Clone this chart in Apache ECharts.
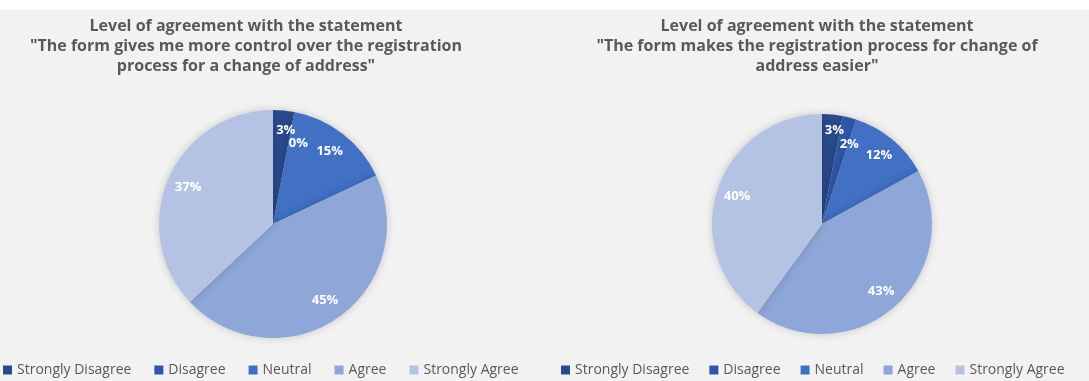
<!DOCTYPE html>
<html>
<head>
<meta charset="utf-8">
<script src="https://cdn.jsdelivr.net/npm/echarts@6/dist/echarts.min.js"></script>
<style>
  html, body { margin: 0; padding: 0; background: #fff; }
  #main { width: 1089px; height: 381px; background: linear-gradient(#fff 0, #fff 10px, #f2f2f2 10px); }
</style>
</head>
<body>
<div id="main"></div>
<script>
var categories = ['Strongly Disagree', 'Disagree', 'Neutral', 'Agree', 'Strongly Agree'];
var controlValues = [3, 0, 15, 45, 37];
var easierValues = [3, 2, 12, 43, 40];
var titleLeft = 'Level of agreement with the statement\n"The form gives me more control over the registration\nprocess for a change of address"';
var titleRight = 'Level of agreement with the statement\n"The form makes the registration process for change of\naddress easier"';

var colors = ['#2b4a8b', '#2f57a8', '#4170c4', '#8ea6d8', '#b4c3e4'];

function pieData(values) {
	return categories.map(function (name, i) {
		return { name: name, value: values[i] };
	});
}

// outer pie draws the slices, a transparent ring on top carries the labels further out
function pieSeries(values, center, radius, nudge) {
	var labels = pieData(values).map(function (d, i) {
		if (nudge[i]) d.label = { offset: nudge[i] };
		return d;
	});
	return [{
		type: 'pie',
		center: center,
		radius: radius,
		startAngle: 90,
		label: { show: false },
		labelLine: { show: false },
		silent: true,
		itemStyle: { shadowBlur: 8, shadowColor: 'rgba(0,0,0,0.18)', borderWidth: 0 },
		data: pieData(values)
	}, {
		type: 'pie',
		center: center,
		radius: [radius * 0.57, radius],
		startAngle: 90,
		silent: true,
		avoidLabelOverlap: false,
		labelLayout: { hideOverlap: false },
		legendHoverLink: false,
		itemStyle: { color: 'transparent' },
		label: {
			show: true,
			position: 'inside',
			formatter: '{c}%',
			color: '#fff',
			fontFamily: 'Open Sans',
			fontWeight: 'bold',
			fontSize: 13,
			textBorderWidth: 0
		},
		labelLine: { show: false },
		data: labels
	}];
}

var titleText = { color: '#595959', fontFamily: 'Open Sans', fontWeight: 'bold', fontSize: 16, lineHeight: 20 };
var legendText = { color: '#595959', fontFamily: 'Open Sans', fontSize: 14 };

var chart = echarts.init(document.getElementById('main'));
chart.setOption({
	color: colors,
	animation: false,
	title: [{
		text: titleLeft,
		left: 241,
		top: 11,
		textAlign: 'center',
		textStyle: titleText
	}, {
		text: titleRight,
		left: 812,
		top: 11,
		textAlign: 'center',
		textStyle: titleText
	}],
	legend: [{
		data: categories,
		left: 3,
		top: 363,
		padding: 0,
		icon: 'rect',
		itemWidth: 9,
		itemHeight: 9,
		itemGap: 23,
		textStyle: legendText,
		selectedMode: false
	}, {
		data: categories,
		left: 561,
		top: 363,
		padding: 0,
		icon: 'rect',
		itemWidth: 9,
		itemHeight: 9,
		itemGap: 20,
		textStyle: legendText,
		selectedMode: false
	}],
	series: pieSeries(controlValues, [273, 224], 114, { 0: [4, -2], 1: [8, 10] })
		.concat(pieSeries(easierValues, [822, 224], 110, { 0: [4, -5], 1: [5, 7] }))
});
</script>
</body>
</html>
